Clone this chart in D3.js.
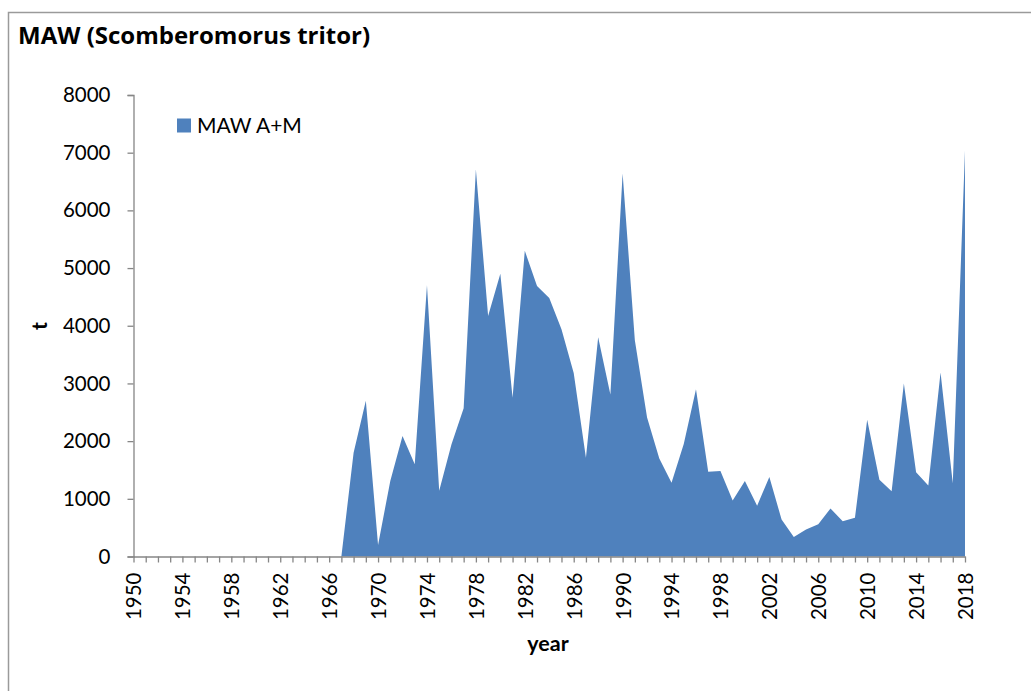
<!DOCTYPE html>
<html>
<head>
<meta charset="utf-8">
<script src="https://cdn.jsdelivr.net/npm/d3@7"></script>
<style>
  html, body { margin: 0; padding: 0; background: #fff; }
  svg { display: block; }
  svg text { fill: #000; }
</style>
</head>
<body>
<svg id="chart" width="1031" height="691"></svg>
<script>
// Annual catch (t) for MAW, 1950–2018
const firstYear = 1950;
const lastYear = 2018;
const years = d3.range(firstYear, lastYear + 1);
const catchA_M = [
  0, 0, 0, 0, 0, 0, 0, 0, 0, 0,            // 1950–1959
  0, 0, 0, 0, 0, 0, 0, 0, 1800, 2700,      // 1960–1969
  200, 1310, 2090, 1600, 4700, 1140, 1940, 2570, 6710, 4170,   // 1970–1979
  4900, 2750, 5300, 4690, 4480, 3940, 3180, 1710, 3800, 2810,  // 1980–1989
  6640, 3750, 2410, 1700, 1280, 1950, 2900, 1470, 1480, 970,   // 1990–1999
  1310, 880, 1380, 640, 340, 470, 560, 830, 610, 670,          // 2000–2009
  2370, 1330, 1130, 3000, 1460, 1230, 3190, 1270, 7040         // 2010–2018
];
const yTicks = [0, 1000, 2000, 3000, 4000, 5000, 6000, 7000, 8000];
const labelStep = 4;
const seriesName = "MAW A+M";
const titleText = "MAW (Scomberomorus tritor)";

const data = years.map((yr, i) => ({ year: yr, value: catchA_M[i] }));

const svg = d3.select("#chart");
const W = 1031, H = 691;
const plotLeft = 133.5, plotRight = 965, plotTop = 95, plotBottom = 556.5;
const axisColor = "#868686";
const fillColor = "#4F81BD";
const bodyFont = "Lato, 'Open Sans', sans-serif";
const tickFont = 20.5;

// outer chart frame
svg.append("rect")
  .attr("x", 8.5).attr("y", 12.5)
  .attr("width", W + 20).attr("height", H + 20)
  .attr("fill", "none").attr("stroke", "#9a9a9a").attr("stroke-width", 1.5);

svg.append("text")
  .attr("x", 18).attr("y", 43.5)
  .style("font-family", "'Open Sans', Lato, sans-serif")
  .attr("font-size", 24).attr("font-weight", "bold")
  .text(titleText);

const x = d3.scaleLinear().domain([firstYear, lastYear]).range([plotLeft, plotRight]);
const y = d3.scaleLinear().domain([0, 8000]).range([plotBottom, plotTop]);

// area series
const area = d3.area()
  .x(d => x(d.year))
  .y0(y(0))
  .y1(d => y(d.value));
svg.append("path")
  .datum(data)
  .attr("d", area)
  .attr("fill", fillColor);

// y axis
const yAxis = svg.append("g")
  .attr("transform", `translate(${plotLeft},0)`)
  .call(d3.axisLeft(y).tickValues(yTicks).tickFormat(d3.format("d")).tickSize(6).tickPadding(17));
yAxis.selectAll("text").attr("font-size", tickFont).attr("fill", "#000")
  .attr("font-family", bodyFont);

// x axis
const xAxis = svg.append("g")
  .attr("transform", `translate(0,${plotBottom})`)
  .call(d3.axisBottom(x).tickValues(years)
    .tickFormat(d => (d - firstYear) % labelStep === 0 ? String(d) : "")
    .tickSize(6).tickSizeOuter(0));
xAxis.selectAll("text")
  .attr("font-size", tickFont).attr("fill", "#000")
  .attr("font-family", bodyFont)
  .attr("text-anchor", "end")
  .attr("transform", "rotate(-90)")
  .attr("x", -16).attr("y", 0).attr("dy", "0.36em");

[yAxis, xAxis].forEach(g => {
  g.selectAll(".domain").attr("stroke", axisColor).attr("stroke-width", 1.3);
  g.selectAll(".tick line").attr("stroke", axisColor).attr("stroke-width", 1.3);
});

// axis titles
svg.append("text")
  .attr("x", 548).attr("y", 651)
  .attr("text-anchor", "middle")
  .attr("font-family", bodyFont)
  .attr("font-size", 21.5).attr("font-weight", "bold")
  .text("year");
svg.append("text")
  .attr("transform", "translate(47,326) rotate(-90)")
  .attr("text-anchor", "middle")
  .attr("font-family", bodyFont)
  .attr("font-size", 21.5).attr("font-weight", "bold")
  .text("t");

// legend
const legend = svg.append("g").attr("transform", "translate(177,118.5)");
legend.append("rect").attr("width", 14).attr("height", 14).attr("fill", fillColor);
legend.append("text").attr("x", 20).attr("y", 14.5)
  .attr("font-family", bodyFont)
  .attr("font-size", 21).text(seriesName);
</script>
</body>
</html>
